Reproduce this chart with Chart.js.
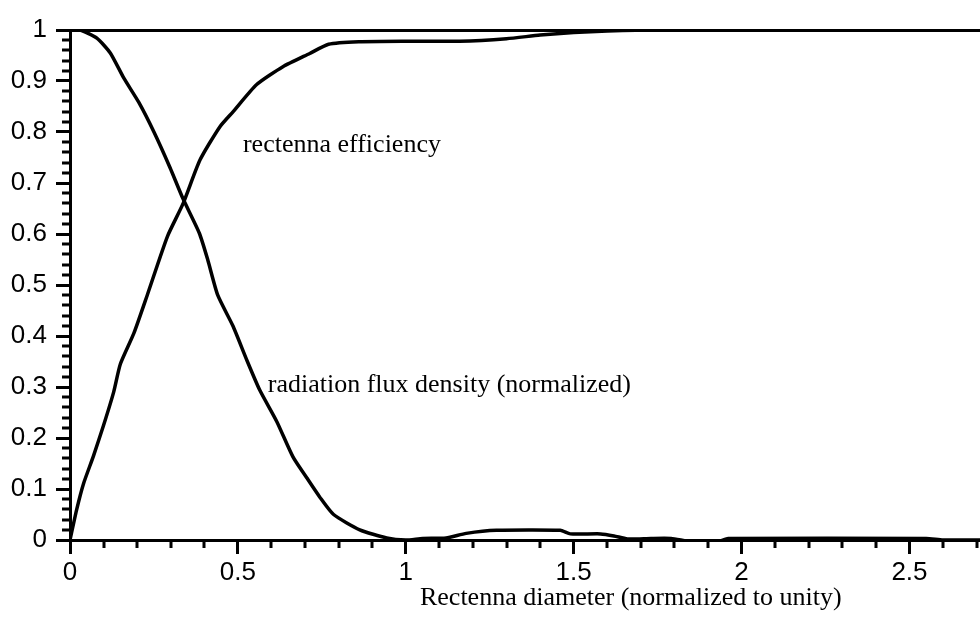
<!DOCTYPE html>
<html>
<head>
<meta charset="utf-8">
<script src="https://cdn.jsdelivr.net/npm/chart.js@4.4.1/dist/chart.umd.min.js"></script>
<style>
  body { margin: 0; background: #fff; }
  canvas { display: block; }
</style>
</head>
<body>
<canvas id="myChart" width="980" height="622"></canvas>
<script>

// rectenna efficiency vs diameter
const effX = [0, 0.02, 0.04, 0.07, 0.1, 0.13, 0.15, 0.19, 0.23, 0.29, 0.337, 0.387, 0.446, 0.486, 0.556, 0.634, 0.714, 0.77, 0.86, 1.0, 1.16, 1.3, 1.4, 1.5, 1.6, 1.75, 2.71];
const effY = [0, 0.06, 0.11, 0.165, 0.225, 0.29, 0.345, 0.405, 0.48, 0.595, 0.66, 0.745, 0.81, 0.84, 0.893, 0.928, 0.954, 0.972, 0.977, 0.978, 0.978, 0.983, 0.99, 0.995, 0.998, 1.0, 1.0];

// normalized radiation flux density
const fluxX = [0, 0.03, 0.08, 0.12, 0.16, 0.205, 0.25, 0.298, 0.336, 0.385, 0.41, 0.44, 0.485, 0.527, 0.565, 0.616, 0.664, 0.705, 0.744, 0.785, 0.863, 0.943, 1.0, 1.05, 1.12, 1.18, 1.27, 1.46, 1.49, 1.58, 1.62, 1.66, 1.73, 1.79, 1.85, 1.93, 1.96, 2.55, 2.6, 2.71];
const fluxY = [1.0, 1.0, 0.984, 0.955, 0.906, 0.858, 0.8, 0.73, 0.67, 0.602, 0.55, 0.48, 0.42, 0.352, 0.294, 0.232, 0.163, 0.122, 0.084, 0.05, 0.02, 0.004, 0, 0.003, 0.004, 0.013, 0.019, 0.019, 0.012, 0.012, 0.008, 0.002, 0.003, 0.003, -0.003, -0.003, 0.003, 0.003, 0, 0];

const xTicks = [0, 0.5, 1, 1.5, 2, 2.5];
const yTicks = [0, 0.1, 0.2, 0.3, 0.4, 0.5, 0.6, 0.7, 0.8, 0.9, 1];

const xTitle = 'Rectenna diameter (normalized to unity)';
const curveNames = ['rectenna efficiency', 'radiation flux density (normalized)'];

const sans = 'Liberation Sans, Arial, sans-serif';
const serif = 'Liberation Serif, Times New Roman, serif';

function toPoints(xs, ys) {
    return xs.map(function (x, i) { return { x: x, y: ys[i] }; });
}

// small ticks between the labelled ones + curve captions + axis title
const extras = {
    id: 'extras',
    afterDraw(chart) {
        const c = chart.ctx;
        const xs = chart.scales.x, ys = chart.scales.y;
        const area = chart.chartArea;
        c.save();
        c.strokeStyle = '#000';
        c.lineWidth = 3;
        c.beginPath();
        for (let i = 0; i <= 50; i++) {
            if (i % 5 === 0) continue;
            const py = Math.round(ys.getPixelForValue(i / 50));
            c.moveTo(area.left - 8, py);
            c.lineTo(area.left, py);
        }
        for (let i = 0; i <= 27; i++) {
            if (i % 5 === 0) continue;
            const px = Math.round(xs.getPixelForValue(i / 10));
            c.moveTo(px, area.bottom);
            c.lineTo(px, area.bottom + 8);
        }
        c.stroke();

        c.fillStyle = '#000';
        c.textBaseline = 'middle';
        c.textAlign = 'left';
        c.font = '26px ' + serif;
        c.fillText(curveNames[0], xs.getPixelForValue(0.515), ys.getPixelForValue(0.775));
        c.fillText(curveNames[1], xs.getPixelForValue(0.589), ys.getPixelForValue(0.304));

        c.textAlign = 'center';
        c.fillText(xTitle, xs.getPixelForValue(1.67), 598);
        c.restore();
    }
};

const ctx = document.getElementById('myChart');

const myChart = new Chart(ctx, {
    type: 'scatter',
    data: {
        datasets: [{
            label: curveNames[0],
            data: toPoints(effX, effY),
            showLine: true,
            borderColor: '#000',
            borderWidth: 3.5,
            pointRadius: 0,
            tension: 0.2
        }, {
            label: curveNames[1],
            data: toPoints(fluxX, fluxY),
            showLine: true,
            borderColor: '#000',
            borderWidth: 3.5,
            pointRadius: 0,
            tension: 0.2
        }]
    },
    options: {
        responsive: false,
        animation: false,
        layout: { padding: { top: 30, right: 0, left: 0, bottom: 0 } },
        plugins: {
            legend: { display: false },
            tooltip: { enabled: false }
        },
        scales: {
            x: {
                type: 'linear',
                min: 0,
                max: 2.71,
                afterBuildTicks: function (scale) {
                    scale.ticks = xTicks.map(function (v) { return { value: v }; });
                },
                afterFit: function (scale) { scale.height = 82; },
                grid: {
                    drawOnChartArea: false,
                    tickLength: 14,
                    tickWidth: 3,
                    tickColor: '#000'
                },
                border: { color: '#000', width: 3 },
                ticks: {
                    color: '#000',
                    padding: 3,
                    maxRotation: 0,
                    font: { family: sans, size: 26 },
                    callback: function (v) { return String(v); }
                }
            },
            y: {
                type: 'linear',
                min: 0,
                max: 1,
                afterBuildTicks: function (scale) {
                    scale.ticks = yTicks.map(function (v) { return { value: v }; });
                },
                afterFit: function (scale) { scale.width = 70; },
                grid: {
                    drawOnChartArea: true,
                    color: function (c) { return c.tick && c.tick.value === 1 ? '#000' : 'rgba(0,0,0,0)'; },
                    lineWidth: 3,
                    tickLength: 14,
                    tickWidth: 3,
                    tickColor: '#000'
                },
                border: { color: '#000', width: 3 },
                ticks: {
                    color: '#000',
                    padding: 9,
                    font: { family: sans, size: 26 },
                    callback: function (v) { return String(v); }
                }
            }
        }
    },
    plugins: [extras]
});
</script>
</body>
</html>
